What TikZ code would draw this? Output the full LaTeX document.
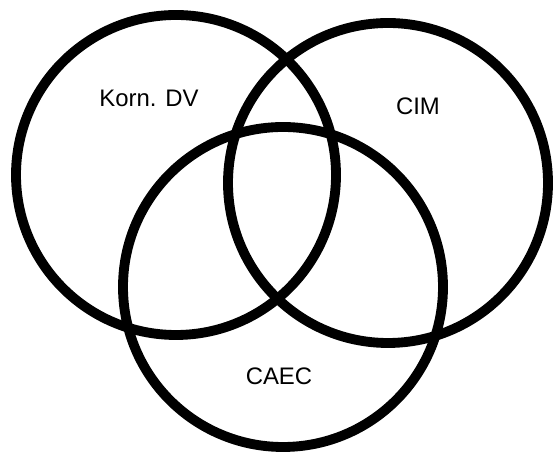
\documentclass[tikz,border=0pt]{standalone}
\usepackage{fontspec}
\setmainfont{Liberation Sans}
\usepackage{tkz-euclide}

\begin{document}
\begin{tikzpicture}
\useasboundingbox (0,0) rectangle (13.875,11.325);
\tkzSetUpLine[line width=7pt,color=black]

% centres of the three sets
\tkzDefPoints{4.4/6.95/O1,9.7/6.75/O2,7.075/4.15/O3}
% one point on each circle
\tkzDefPoints{8.4/6.95/A,13.7/6.75/B,11.075/4.15/C}

\tkzDrawCircles[line width=7pt,color=black](O1,A O2,B O3,C)

\node[font=\fontsize{17}{20}\selectfont] (kdv) at (3.725,8.875) {Korn. DV};
\node[font=\fontsize{17}{20}\selectfont] (cim) at (10.45,8.675) {CIM};
\node[font=\fontsize{17}{20}\selectfont] (caec) at (6.975,1.925) {CAEC};

\end{tikzpicture}
\end{document}
